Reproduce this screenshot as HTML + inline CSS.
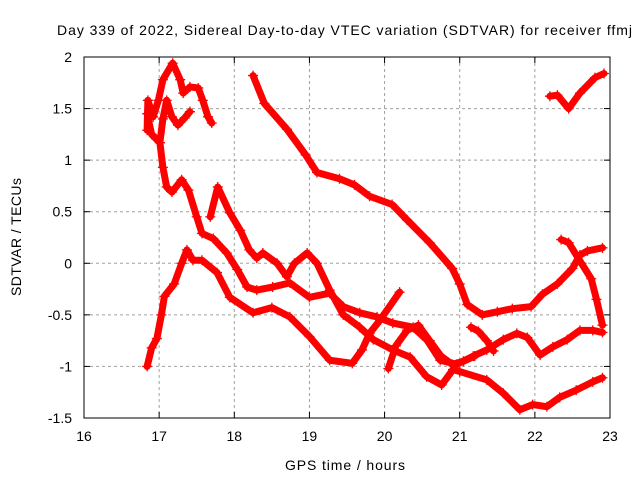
<!DOCTYPE html>
<html><head><meta charset="utf-8"><style>
body{margin:0;background:#fff}
svg text{font-family:"Liberation Sans",sans-serif;font-size:14px;fill:#000}
</style></head><body>
<svg id="chart" width="640" height="480" viewBox="0 0 640 480" xmlns="http://www.w3.org/2000/svg">
<rect width="640" height="480" fill="#fff"/>
<text x="57" y="35" textLength="575" lengthAdjust="spacing">Day 339 of 2022, Sidereal Day-to-day VTEC variation (SDTVAR) for receiver ffmj</text>
<g id="grid"></g>
<g id="series"></g>
<rect x="84" y="57" width="526" height="361" fill="none" stroke="#000" stroke-width="1"/>
<g id="ticks"></g>
<text transform="translate(21,237) rotate(-90)" text-anchor="middle" textLength="118" lengthAdjust="spacing">SDTVAR / TECUs</text>
<text x="285" y="470" textLength="120" lengthAdjust="spacing">GPS time / hours</text>
</svg>
<script>
const xTicks=[16,17,18,19,20,21,22,23];
const yTicks=[-1.5,-1,-0.5,0,0.5,1,1.5,2];
const yTickLabels=["-1.5","-1","-0.5","0","0.5","1","1.5","2"];
const trackTopLeftA=[[16.84,1.29],[16.85,1.58],[16.92,1.42],[16.99,1.58],[17.05,1.78],[17.18,1.94],[17.28,1.78],[17.32,1.65],[17.41,1.71],[17.52,1.7],[17.58,1.58],[17.65,1.42],[17.7,1.36]];
const trackTopLeftB=[[16.84,1.45],[16.9,1.25],[17.01,1.17],[17.05,1.4],[17.1,1.58],[17.17,1.42],[17.25,1.34],[17.34,1.41],[17.41,1.47]];
const trackDescent=[[17.01,1.17],[17.05,0.93],[17.1,0.74],[17.17,0.69],[17.3,0.81],[17.39,0.71],[17.5,0.45],[17.57,0.29],[17.72,0.24],[17.9,0.1],[18.04,-0.06],[18.17,-0.23],[18.3,-0.26],[18.51,-0.23],[18.74,-0.19],[19.0,-0.33],[19.27,-0.29],[19.45,-0.42],[19.67,-0.48],[19.9,-0.52],[20.11,-0.58],[20.38,-0.62],[20.56,-0.74],[20.74,-0.94],[20.96,-0.98],[21.18,-0.9],[21.36,-0.84],[21.58,-0.74],[21.76,-0.68],[21.9,-0.72],[22.07,-0.89],[22.24,-0.81],[22.43,-0.74],[22.6,-0.65],[22.77,-0.65],[22.9,-0.67]];
const trackPeak=[[17.68,0.45],[17.78,0.74],[17.94,0.49],[18.08,0.32],[18.2,0.13],[18.3,0.05],[18.38,0.1],[18.57,0.0],[18.7,-0.13],[18.8,0.0],[18.97,0.1],[19.1,0.0],[19.27,-0.26],[19.45,-0.5],[19.67,-0.62],[19.85,-0.74],[20.11,-0.84],[20.34,-0.91],[20.56,-1.1],[20.76,-1.18],[20.91,-1.03],[21.0,-1.05],[21.36,-1.13],[21.58,-1.26],[21.8,-1.42],[21.97,-1.37],[22.16,-1.39],[22.33,-1.3],[22.55,-1.23],[22.77,-1.15],[22.9,-1.11]];
const trackBottom=[[16.84,-1.0],[16.9,-0.82],[16.97,-0.73],[17.03,-0.5],[17.07,-0.32],[17.2,-0.2],[17.3,0.0],[17.37,0.13],[17.45,0.03],[17.57,0.03],[17.77,-0.09],[17.94,-0.33],[18.25,-0.48],[18.5,-0.43],[18.74,-0.52],[19.0,-0.71],[19.27,-0.94],[19.57,-0.97],[19.7,-0.84],[19.8,-0.68],[19.94,-0.55],[20.2,-0.28]];
const trackMidLate=[[20.05,-1.02],[20.15,-0.8],[20.3,-0.65],[20.45,-0.6],[20.6,-0.75],[20.75,-0.9],[20.9,-0.98],[21.05,-0.95],[21.2,-0.9]];
const trackShort=[[21.15,-0.62],[21.25,-0.66],[21.36,-0.75],[21.45,-0.85]];
const trackLong=[[18.25,1.82],[18.4,1.55],[18.7,1.3],[18.95,1.05],[19.1,0.88],[19.4,0.82],[19.6,0.76],[19.8,0.65],[20.1,0.57],[20.3,0.42],[20.6,0.2],[20.9,-0.05],[21.0,-0.2],[21.1,-0.4],[21.3,-0.5],[21.5,-0.47],[21.7,-0.44],[21.95,-0.42],[22.1,-0.3],[22.3,-0.2],[22.5,-0.05],[22.6,0.08],[22.7,0.12],[22.9,0.15]];
const trackDrop=[[22.35,0.23],[22.45,0.2],[22.62,0.0],[22.75,-0.15],[22.82,-0.35],[22.9,-0.6]];
const trackTopRight=[[22.2,1.62],[22.3,1.63],[22.45,1.5],[22.6,1.65],[22.8,1.8],[22.92,1.84]];
const tracks=[trackTopLeftA,trackTopLeftB,trackDescent,trackPeak,trackBottom,trackMidLate,trackShort,trackLong,trackDrop,trackTopRight];
const trackNames=["track-top-left-a","track-top-left-b","track-descent","track-peak","track-bottom","track-mid-late","track-short","track-long","track-drop","track-top-right"];
const X=v=>84+(v-16)*526/7, Y=v=>418-(v+1.5)*361/3.5;
const NS="http://www.w3.org/2000/svg";
const grid=document.getElementById('grid'),ticks=document.getElementById('ticks'),ser=document.getElementById('series');
function mk(tag,attrs,parent){const e=document.createElementNS(NS,tag);for(const k in attrs)e.setAttribute(k,attrs[k]);parent.appendChild(e);return e;}
xTicks.forEach(t=>{const x=X(t);
 if(t>16&&t<23){const g=mk('line',{x1:x,x2:x,y1:57,y2:418,stroke:'#a0a0a0','stroke-dasharray':'3,3'},grid);}
 const a=mk('line',{x1:x,x2:x,y1:418,y2:412,stroke:'#000'},ticks);
 const b=mk('line',{x1:x,x2:x,y1:57,y2:63,stroke:'#000'},ticks);
 const l=mk('text',{x:x,y:441,'text-anchor':'middle'},ticks);l.textContent=t;});
yTicks.forEach((t,i)=>{const y=Y(t);
 if(t>-1.5&&t<2){const g=mk('line',{x1:84,x2:610,y1:y,y2:y,stroke:'#a0a0a0','stroke-dasharray':'3,3'},grid);}
 const a=mk('line',{x1:84,x2:90,y1:y,y2:y,stroke:'#000'},ticks);
 const b=mk('line',{x1:604,x2:610,y1:y,y2:y,stroke:'#000'},ticks);
 const l=mk('text',{x:72,y:y+5,'text-anchor':'end'},ticks);l.textContent=yTickLabels[i];});
tracks.forEach((tr,i)=>{
 const g=mk('g',{},ser);
 const pl=mk('polyline',{points:tr.map(p=>X(p[0])+','+Y(p[1])).join(' '),fill:'none',stroke:'#f00','stroke-width':7,'stroke-linejoin':'round','stroke-linecap':'round'},g);
 
 tr.forEach(p=>{const x=X(p[0]),y=Y(p[1]);
  const m=mk('path',{d:`M${x-5},${y}h10M${x},${y-5}v10`,stroke:'#f00','stroke-width':1.3},g);
  });
});
</script>
</body></html>
